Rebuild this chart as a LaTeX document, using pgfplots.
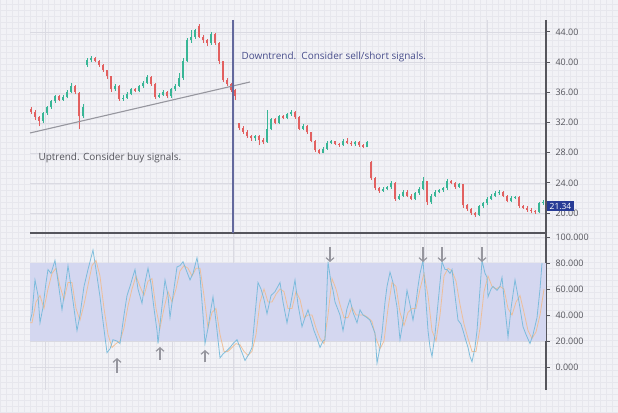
\documentclass[border=0pt]{standalone}
\usepackage{pgfplots}
\pgfplotsset{compat=1.18}
\usepackage{pgfplotstable}
\usepackage{fontspec}
\setmainfont{Open Sans}
\usetikzlibrary{arrows.meta}
\definecolor{bg}{RGB}{242,242,246}
\definecolor{fgrid}{RGB}{231,231,237}
\definecolor{mgrid}{RGB}{218,218,226}
\definecolor{upc}{RGB}{56,182,150}
\definecolor{dnc}{RGB}{226,96,96}
\definecolor{kcol}{RGB}{115,185,218}
\definecolor{dcol}{RGB}{240,188,145}
\definecolor{band}{RGB}{212,215,240}
\definecolor{navy}{RGB}{72,78,140}
\definecolor{axisc}{RGB}{85,85,92}
\definecolor{lblue}{RGB}{40,60,150}
\definecolor{arrc}{RGB}{150,150,158}

\pgfplotstableread{
x o c h l
31 33.8 33.4 34.1 33.1
35 33.4 32.7 33.6 32.3
39 32.7 32.2 32.9 31.5
43 32.2 33.2 33.4 32.0
47 33.2 34.0 34.2 33.0
51 34.0 34.8 35.0 33.8
55 34.8 35.5 35.7 34.6
59 35.5 35.0 35.6 34.8
63 35.0 35.4 35.6 34.9
67 35.4 36.1 36.3 35.2
71 36.1 36.8 37.2 35.9
75 36.8 36.0 37.0 35.8
79 35.9 32.8 36.0 31.1
83 32.8 34.1 34.4 32.6
87 39.6 40.3 40.6 39.4
91 40.3 40.6 40.8 40.0
95 40.6 40.2 40.7 40.0
99 40.2 39.6 40.3 39.4
103 39.6 38.9 39.7 38.7
107 38.9 38.1 39.0 37.8
111 38.1 36.4 38.2 36.1
115 36.4 36.9 37.1 36.2
119 36.9 35.1 37.0 34.9
123 35.1 35.3 35.6 34.9
127 35.3 35.8 36.0 35.1
131 35.8 36.4 36.6 35.6
135 36.4 36.2 36.6 36.0
139 36.2 36.8 37.0 36.0
143 36.8 37.3 37.5 36.6
147 37.3 38.0 38.3 37.1
151 38.0 37.1 38.1 36.9
155 37.1 35.4 37.2 35.1
159 35.4 35.7 35.9 35.2
163 35.7 36.1 36.3 35.5
167 36.1 35.5 36.2 35.2
171 35.5 36.4 36.6 35.3
175 36.4 36.9 37.1 36.2
179 36.9 37.9 38.6 36.7
183 37.9 40.2 40.5 37.7
187 40.2 42.9 43.2 40.0
191 42.9 43.4 44.3 42.6
195 43.4 44.2 44.4 43.1
199 44.8 43.4 45.1 43.2
203 43.4 42.9 43.6 42.6
207 42.9 42.5 43.1 42.2
211 42.5 43.7 44.0 42.3
215 43.7 42.6 43.8 42.3
219 42.6 40.1 42.7 39.8
223 40.1 37.7 40.2 37.4
227 37.7 37.1 37.9 36.8
231 37.1 36.3 37.3 36.0
235 36.3 35.5 36.5 35.0
239 31.9 31.3 32.0 31.0
243 31.3 30.8 31.5 30.5
247 30.8 30.2 31.0 30.0
251 30.2 29.9 30.4 29.6
255 29.9 30.2 30.4 29.6
259 30.2 29.7 30.4 29.0
263 29.7 29.4 29.9 29.1
267 29.4 31.2 33.7 29.3
271 31.2 32.4 32.6 31.0
275 32.4 32.0 32.6 31.8
279 32.0 32.8 33.0 31.8
283 32.8 32.6 33.0 32.4
287 32.6 33.1 33.3 32.4
291 33.1 33.4 33.7 32.9
295 33.4 32.7 33.5 32.5
299 32.7 31.2 32.8 31.0
303 31.2 31.6 31.8 31.0
307 31.6 30.7 31.7 30.5
311 30.7 29.6 30.8 29.4
315 29.6 28.3 29.7 28.1
319 28.3 28.0 28.5 27.8
323 28.0 28.5 28.7 27.9
327 28.5 29.3 29.5 28.4
331 29.3 29.5 29.7 29.1
335 29.5 29.2 29.6 29.0
339 29.2 29.0 29.3 28.8
343 29.0 29.6 29.8 28.9
347 29.6 29.3 30.0 29.1
351 29.3 29.1 29.5 28.9
355 29.1 29.4 29.6 28.9
359 29.4 29.0 29.5 28.8
363 29.0 28.8 29.2 28.6
367 28.8 29.4 29.6 28.7
371 26.7 24.6 26.9 24.4
375 24.6 23.3 24.8 23.0
379 23.3 22.9 23.5 22.7
383 22.9 23.2 23.4 22.8
387 23.2 23.4 23.6 23.0
391 23.4 24.0 24.3 23.2
395 24.0 21.9 24.1 21.6
399 21.9 22.3 22.5 21.7
403 22.3 22.8 23.0 22.1
407 22.8 22.3 23.0 22.1
411 22.3 21.9 22.5 21.7
415 21.9 22.6 22.8 21.7
419 22.6 23.2 23.4 22.4
423 23.2 24.2 24.8 23.0
427 24.2 21.4 24.3 21.1
431 21.4 22.3 22.5 21.2
435 22.3 22.8 23.0 22.1
439 22.8 23.0 23.2 22.6
443 23.0 23.3 23.5 22.8
447 23.3 24.2 24.5 23.1
451 24.2 24.0 24.4 23.8
455 24.0 23.5 24.1 23.2
459 23.5 23.8 24.0 23.3
463 23.8 21.0 23.9 20.7
467 21.0 20.5 21.2 20.3
471 20.5 20.0 20.7 19.8
475 20.0 19.7 20.2 19.5
479 19.7 20.9 21.1 19.6
483 20.9 21.3 21.5 20.7
487 21.3 21.9 22.1 21.1
491 21.9 22.3 22.5 21.7
495 22.3 22.6 22.9 22.1
499 22.6 22.8 23.0 22.4
503 22.8 22.3 22.9 22.1
507 22.3 21.6 22.4 21.4
511 21.6 22.0 22.2 21.4
515 22.0 22.1 22.3 21.8
519 22.1 20.9 22.2 20.7
523 20.9 20.7 21.1 20.5
527 20.7 20.4 20.9 20.2
531 20.4 20.3 20.6 20.0
535 20.3 20.1 20.4 19.9
539 20.1 21.3 21.5 20.0
543 21.3 21.5 21.7 21.1
}\candles

\tikzset{sarrow/.style={arrc, line width=1.2pt, -{Straight Barb[length=3.5bp,width=8bp]}}}
\pgfplotsset{
  tlab/.style={font=\fontsize{9}{10}\selectfont, text=axisc},
  common/.style={
    scale only axis, width=516bp, xmin=30, xmax=546,
    axis x line=none, axis y line*=right,
    y axis line style={draw=axisc, line width=1.1pt},
    tick align=outside, major tick length=4bp,
    ytick style={draw=axisc, line width=1pt},
    yticklabel style={tlab, xshift=2bp},
    /pgf/number format/assume math mode=true,
    clip mode=individual,
  },
  candle/.style={draw=none, mark=none, forget plot,
    error bars/.cd, y dir=plus, y explicit, error mark=none,
    error bar style={draw=#1, draw opacity=1}},
}

\begin{document}
\begin{tikzpicture}[x=1bp,y=1bp]
\fill[bg] (0,0) rectangle (618,412);
\draw[fgrid, line width=0.35pt, step=6] (0,0) grid (618,412);
\foreach \gx in {45,108,172,233,296,360,424,487}
  \draw[mgrid, line width=0.6pt] (\gx,22) -- (\gx,392);
\foreach \gy in {380,350,319,289,259,229,199,175,149,123,97,71,45}
  \draw[mgrid, line width=0.6pt] (30,\gy) -- (546,\gy);

% ---------- price panel ----------
\begin{axis}[common, at={(30bp,179bp)}, anchor=south west, height=213bp,
  ymin=17.35, ymax=45.59, ytick={20,24,...,44},
  yticklabel style={/pgf/number format/.cd, fixed, fixed zerofill, precision=2}]
% wicks
\addplot[candle=upc, error bar style={line width=0.6pt}]
  table[x=x, y=l, y error plus expr={(\thisrow{h}-\thisrow{l})*(\thisrow{c}>=\thisrow{o})}] {\candles};
\addplot[candle=dnc, error bar style={line width=0.6pt}]
  table[x=x, y=l, y error plus expr={(\thisrow{h}-\thisrow{l})*(\thisrow{c}<\thisrow{o})}] {\candles};
% bodies
\addplot[candle=upc, error bar style={line width=2.4pt}]
  table[x=x, y=o, y error plus expr={max(\thisrow{c}-\thisrow{o},0)}] {\candles};
\addplot[candle=dnc, error bar style={line width=2.4pt}]
  table[x=x, y=c, y error plus expr={max(\thisrow{o}-\thisrow{c},0)}] {\candles};
% trend line
\draw[arrc, line width=1.1pt] (axis cs:30,30.61) -- (axis cs:250,37.37);
\node[anchor=west, text=navy, font=\fontsize{10}{12}\selectfont] at (axis cs:238,40.68) {Downtrend.\ \ Consider sell/short signals.};
\node[anchor=west, text=axisc, font=\fontsize{10}{12}\selectfont] at (axis cs:35,27.29) {Uptrend. Consider buy signals.};
\end{axis}

% ---------- stochastic panel ----------
\begin{axis}[common, at={(30bp,22bp)}, anchor=south west, height=157bp,
  ymin=-17.7, ymax=103.1, ytick={0,20,...,100},
  yticklabel style={/pgf/number format/.cd, fixed, fixed zerofill, precision=3}]
\addplot[draw=none, fill=band, forget plot] coordinates {(30,20) (546,20) (546,80) (30,80)} -- cycle;
% %D (orange)
\addplot[dcol, line width=0.8pt, opacity=0.9, mark=none] coordinates {
(30,34) (32,34) (36,50) (40,55) (44,45) (48,60) (52,72) (56,76) (60,62) (64,52) (68,65) (72,65) (76,45) (80,36) (84,48) (88,63) (92,78) (96,82) (100,70) (104,45) (108,25) (112,15) (116,18) (120,20) (124,30) (128,47) (132,60) (136,70) (140,62) (144,55) (148,66) (152,68) (156,45) (160,30) (164,45) (168,58) (172,50) (176,60) (180,74) (184,78) (188,76) (192,70) (196,76) (200,76) (204,55) (208,30) (212,42) (216,45) (220,25) (224,12) (228,12) (232,15) (236,18) (240,17) (244,12) (248,9) (252,12) (256,25) (260,50) (264,60) (268,50) (272,50) (276,56) (280,60) (284,58) (288,45) (292,45) (296,58) (300,52) (304,38) (308,40) (312,40) (316,30) (320,22) (324,18) (328,40) (332,68) (336,60) (340,48) (344,38) (348,38) (352,46) (356,40) (360,40) (364,40) (368,38) (372,35) (376,22) (380,14) (384,20) (388,45) (392,65) (396,62) (400,42) (404,32) (408,42) (412,45) (416,45) (420,60) (424,72) (428,55) (432,28) (436,20) (440,40) (444,70) (448,76) (452,74) (456,66) (460,48) (464,33) (468,22) (472,12) (476,12) (480,30) (484,58) (488,70) (492,62) (496,60) (500,62) (504,60) (508,45) (512,40) (516,50) (520,55) (524,42) (528,28) (532,22) (536,27) (540,40) (544,60)
};
% %K (blue)
\addplot[kcol, line width=0.8pt, opacity=0.9, mark=none] coordinates {
(30,35) (32,41) (35,67) (38,55) (40,34) (43,46) (46,65) (48,75) (51,72) (55,82) (58,66) (62,44) (65,60) (68,78) (71,62) (74,45) (77,28) (80,40) (84,62) (88,75) (93,90) (96,75) (100,54) (103,35) (107,11) (110,14) (113,21) (117,20) (120,18) (124,40) (127,55) (130,62) (133,70) (135,75) (138,60) (142,49) (145,65) (148,76) (151,64) (154,45) (157,28) (158,18) (161,40) (165,67) (168,55) (170,38) (173,55) (177,77) (180,78) (183,81) (186,75) (190,67) (193,72) (197,84) (200,70) (203,40) (205,18) (208,30) (211,45) (213,54) (216,35) (220,7) (223,10) (226,12) (230,15) (233,18) (237,21) (240,15) (245,5) (249,10) (252,15) (255,40) (258,65) (261,60) (264,52) (267,41) (271,55) (275,58) (280,65) (283,50) (287,34) (291,50) (295,67) (298,48) (302,31) (305,38) (308,44) (311,36) (314,28) (317,22) (320,15) (323,20) (325,21) (328,81) (331,65) (333,59) (335,50) (337,46) (340,40) (343,28) (347,45) (350,52) (353,42) (357,34) (360,44) (363,40) (367,38) (370,36) (373,30) (375,26) (377,3) (380,15) (382,26) (385,50) (387,62) (390,73) (393,65) (397,46) (400,21) (403,35) (407,59) (410,48) (413,36) (416,50) (418,62) (420,72) (423,82) (426,50) (428,28) (430,15) (432,8) (435,25) (437,41) (440,65) (442,81) (445,75) (447,75) (450,72) (452,75) (455,55) (458,36) (461,33) (463,28) (466,20) (468,15) (470,8) (472,4) (475,15) (477,28) (480,60) (482,82) (485,72) (487,69) (488,54) (491,60) (493,62) (497,59) (500,62) (502,69) (505,45) (508,23) (511,45) (515,67) (519,50) (523,31) (526,25) (530,18) (533,25) (537,38) (540,60) (542,80)
};
% signal arrows
\draw[sarrow] (axis cs:330,92.3) -- (axis cs:330,80.8);
\draw[sarrow] (axis cs:423,92.3) -- (axis cs:423,80.8);
\draw[sarrow] (axis cs:442,92.3) -- (axis cs:442,80.8);
\draw[sarrow] (axis cs:482,92.3) -- (axis cs:482,80.8);
\draw[sarrow] (axis cs:117,-4.6) -- (axis cs:117,6.9);
\draw[sarrow] (axis cs:160,5.4) -- (axis cs:160,15.4);
\draw[sarrow] (axis cs:205,3.8) -- (axis cs:205,13.1);
\end{axis}

% separator and downtrend divider
\draw[axisc, line width=1.3pt] (30,179) -- (546,179);
\draw[navy!85, line width=1.2pt] (233,392) -- (233,179);
\node[fill=lblue, text=white, font=\fontsize{8.5}{10}\selectfont, inner xsep=2.5bp, inner ysep=1.8bp, anchor=west] at (547,206) {21.34};
\pgfresetboundingbox
\path[use as bounding box] (0,0) rectangle (618,412);
\end{tikzpicture}
\end{document}
